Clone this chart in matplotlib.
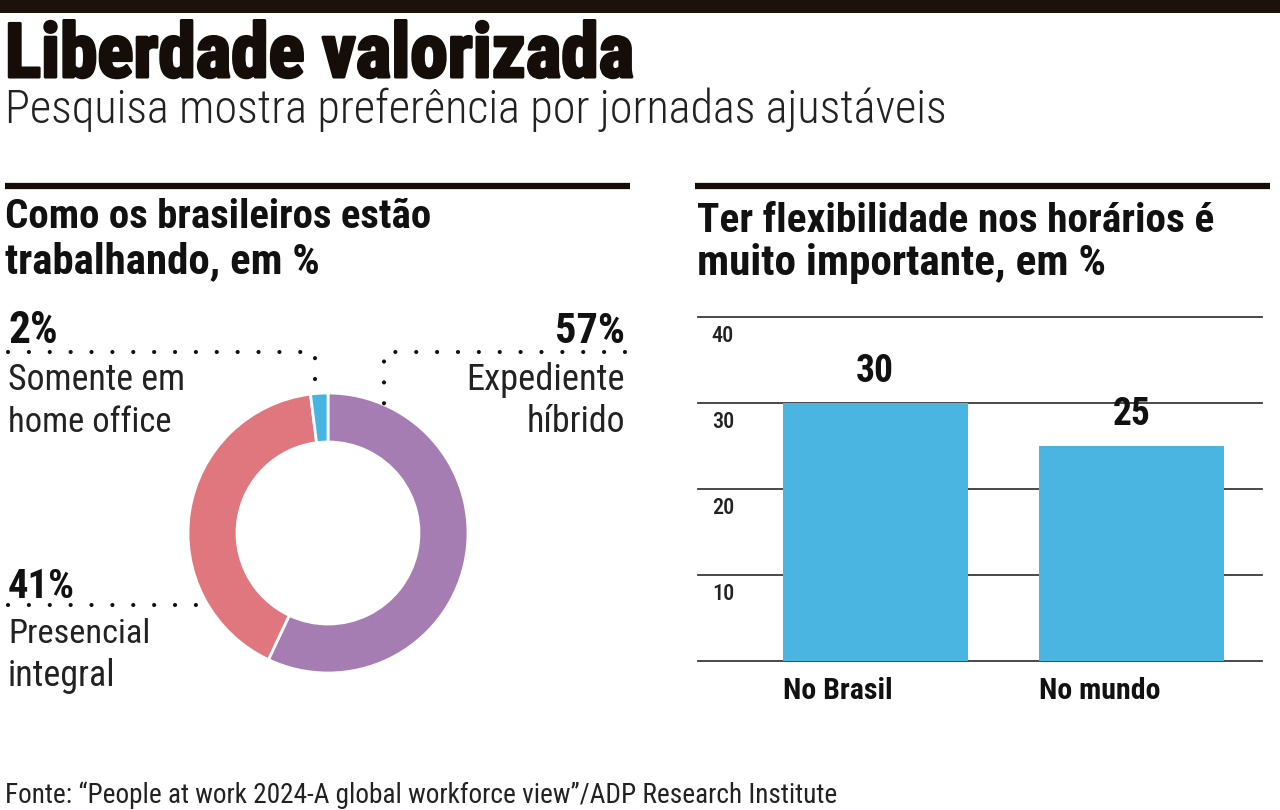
import matplotlib
matplotlib.use("Agg")
import matplotlib.pyplot as plt
import matplotlib.patheffects as pe
from matplotlib import font_manager as fm
from matplotlib.lines import Line2D

# ---------------- data ----------------
title = "Liberdade valorizada"
subtitle = "Pesquisa mostra preferência por jornadas ajustáveis"
left_header = ["Como os brasileiros estão", "trabalhando, em %"]
right_header = ["Ter flexibilidade nos horários é", "muito importante, em %"]
source = "Fonte: \u201cPeople at work 2024-A global workforce view\u201d/ADP Research Institute"

slice_names = [["Expediente", "híbrido"], ["Presencial", "integral"], ["Somente em", "home office"]]
slice_values = [57, 41, 2]
slice_colors = ["#a67db2", "#e0777f", "#46b4e0"]

bar_categories = ["No Brasil", "No mundo"]
bar_values = [30, 25]
bar_ticks = [0, 10, 20, 30, 40]
bar_color = "#4ab5e0"

# ---------------- fonts ----------------
def pick(cands):
    for c in cands:
        try:
            fm.findfont(fm.FontProperties(family=c), fallback_to_default=False)
            return c
        except Exception:
            pass
    return "DejaVu Sans"

COND = pick(["Roboto Condensed", "Liberation Sans Narrow", "DejaVu Sans Condensed", "Open Sans Condensed", "Roboto"])
FAM = [COND, "DejaVu Sans"]

W, H = 1280, 810
fig = plt.figure(figsize=(W / 100, H / 100), dpi=100)
fig.patch.set_facecolor("white")
renderer = fig.canvas.get_renderer()

def fx(px):
    return px / W

def fy(py):
    return 1 - py / H

# ---------------- donut ----------------
cx, cy, R = 328, 533, 140
axd = fig.add_axes([fx(cx - R), fy(cy + R), 2 * R / W, 2 * R / H])
axd.pie(slice_values, colors=slice_colors, startangle=90, counterclock=False,
        radius=1.0, wedgeprops=dict(width=0.35, edgecolor="white", linewidth=2))
axd.set_xlim(-1, 1)
axd.set_ylim(-1, 1)
axd.set_aspect("auto")
axd.axis("off")

# ---------------- bars ----------------
px_left, px_right = 698, 1262
py_top, py_bottom = 317, 661
axb = fig.add_axes([fx(px_left), fy(py_bottom), (px_right - px_left) / W, (py_bottom - py_top) / H])
xs = list(range(len(bar_values)))
bw = 0.72
axb.set_xlim(-0.689, 1.506)
axb.set_ylim(0, 40)
for t in bar_ticks:
    axb.axhline(t, color="#3a3a3a", lw=1.3, zorder=1, clip_on=False)
axb.bar(xs, bar_values, width=bw, color=bar_color, zorder=2)
for t in bar_ticks[1:]:
    axb.text(-0.592, t - 0.9, str(t), ha="center", va="top", fontsize=16,
             family=FAM, weight="medium", color="#222222")
for x, v in zip(xs, bar_values):
    axb.text(x, v + 1.5, str(v), ha="center", va="bottom", fontsize=27,
             family=FAM, weight="bold", color="#111111")
for x, c in zip(xs, bar_categories):
    axb.text(x - bw / 2, -1.9, c, ha="left", va="top", fontsize=21.5,
             family=FAM, weight="bold", color="#111111")
axb.axis("off")

# ---------------- overlay ----------------
ax0 = fig.add_axes([0, 0, 1, 1], facecolor="none")
ax0.set_xlim(0, W)
ax0.set_ylim(H, 0)
ax0.axis("off")
ax0.set_zorder(10)

def put(x, y, s, width, ha="left", size0=20, **kw):
    t = ax0.text(x, y, s, fontsize=size0, ha=ha, va="baseline", family=FAM, **kw)
    bb = t.get_window_extent(renderer=renderer)
    t.set_fontsize(size0 * width / bb.width)
    return t

# top bar
ax0.add_patch(plt.Rectangle((0, 0), W, 13, color="#1c120c", lw=0))
tt = put(5, 77, title, 628, weight="bold", color="#140d08")
tt.set_path_effects([pe.withStroke(linewidth=2.2, foreground="#140d08")])
put(5, 123, subtitle, 940, weight="light", color="#222222")

# section rules
ax0.plot([5, 630], [186, 186], color="#140d08", lw=4.5, solid_capstyle="butt")
ax0.plot([695, 1270], [186, 186], color="#140d08", lw=4.5, solid_capstyle="butt")

put(5, 228, left_header[0], 425, weight="bold", color="#111111")
put(5, 273, left_header[1], 315, weight="bold", color="#111111")
put(697, 232, right_header[0], 515, weight="bold", color="#111111")
put(697, 275, right_header[1], 408, weight="bold", color="#111111")

# donut labels
lab_col = "#222222"
# 2% (index 2)
put(8, 343, f"{slice_values[2]}%", 50, weight="bold", color="#111111")
put(8, 390, slice_names[2][0], 177, color=lab_col)
put(8, 432, slice_names[2][1], 164, color=lab_col)
# 57% (index 0)
put(625, 343, f"{slice_values[0]}%", 70, ha="right", weight="bold", color="#111111")
put(625, 390, slice_names[0][0], 158, ha="right", color=lab_col)
put(625, 432, slice_names[0][1], 98, ha="right", color=lab_col)
# 41% (index 1)
put(8, 598, f"{slice_values[1]}%", 67, weight="bold", color="#111111")
put(8, 643, slice_names[1][0], 142, color=lab_col)
put(8, 686, slice_names[1][1], 107, color=lab_col)

def dotted(xs_, ys_):
    ln = Line2D(xs_, ys_, color="#111111", lw=3.0, dashes=(0.01, 5.0),
                dash_capstyle="round")
    ax0.add_line(ln)

dotted([8, 315, 315], [352, 352, 388])
dotted([625, 384, 384], [352, 352, 410])
dotted([8, 208], [605, 605])

put(5, 803, source, 830, color="#222222")

fig.savefig("out.png", dpi=100, facecolor="white")
